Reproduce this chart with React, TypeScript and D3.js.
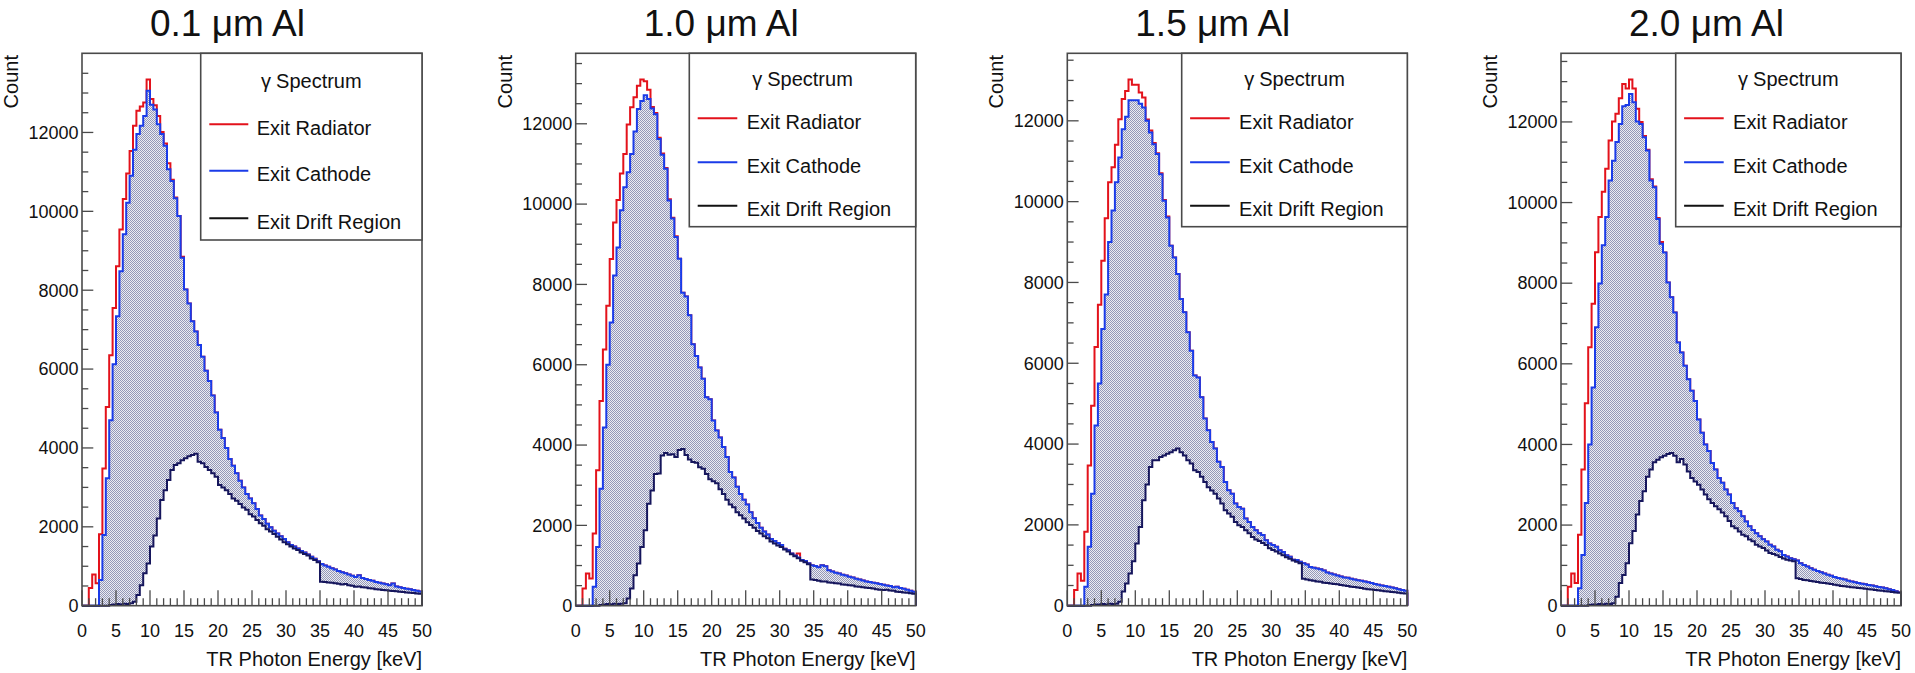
import React from 'react';
import * as d3 from 'd3';

// ---------------- data ----------------
const BIN_WIDTH = 0.5; // keV
const X_DOMAIN: [number, number] = [0, 50];
const xMajorTicks = [0, 5, 10, 15, 20, 25, 30, 35, 40, 45, 50];
const yMajorTicks = [0, 2000, 4000, 6000, 8000, 10000, 12000];
const panelTitles = ['0.1 μm Al', '1.0 μm Al', '1.5 μm Al', '2.0 μm Al'];
const legendTitle = 'Spectrum';
const legendGreek = 'γ';
const seriesLabels = ['Exit Radiator', 'Exit Cathode', 'Exit Drift Region'];
const xAxisTitle = 'TR Photon Energy [keV]';
const yAxisTitle = 'Count';

// 0.1 um Al
const radiator01 = [
  0, 0, 450, 790, 570, 1810, 3480, 5040, 6350, 7550,
  8610, 9540, 10310, 10960, 11530, 12170, 12550, 12660, 12760, 13340,
  12850, 12690, 12420, 12010, 11720, 11220, 10800, 10350, 9880, 8850,
  8020, 7660, 7210, 6950, 6610, 6310, 5960, 5700, 5330, 4900,
  4460, 4250, 4000, 3720, 3550, 3360, 3170, 3000, 2830, 2720,
  2600, 2450, 2290, 2200, 2080, 1990, 1900, 1830, 1760, 1690,
  1610, 1540, 1500, 1450, 1390, 1350, 1300, 1240, 1190, 1130,
  1060, 1020, 990, 950, 920, 880, 850, 820, 790, 760,
  730, 770, 700, 680, 650, 630, 600, 580, 560, 545,
  520, 565, 490, 470, 450, 430, 415, 400, 380, 360,
];
const cathode01 = [
  0, 0, 0, 0, 0, 650, 1790, 3230, 4700, 6120,
  7340, 8480, 9420, 10220, 10900, 11560, 11960, 12170, 12420, 13060,
  12700, 12580, 12210, 11960, 11660, 11070, 10770, 10330, 9880, 8820,
  8020, 7660, 7210, 6950, 6610, 6310, 5960, 5700, 5330, 4900,
  4460, 4250, 4000, 3720, 3550, 3360, 3170, 3000, 2830, 2720,
  2600, 2450, 2290, 2200, 2080, 1990, 1900, 1830, 1760, 1690,
  1610, 1540, 1500, 1450, 1390, 1350, 1300, 1240, 1190, 1130,
  1060, 1020, 990, 950, 920, 880, 850, 820, 790, 760,
  730, 770, 700, 680, 650, 630, 600, 580, 560, 545,
  520, 565, 490, 470, 450, 430, 415, 400, 380, 360,
];
const drift01 = [
  0, 0, 0, 0, 0, 0, 0, 0, 20, 30,
  40, 30, 50, 40, 60, 100, 270, 520, 820, 1070,
  1500, 1780, 2210, 2680, 2930, 3190, 3440, 3570, 3610, 3690,
  3740, 3790, 3820, 3850, 3650, 3610, 3520, 3440, 3360, 3270,
  3060, 3000, 2930, 2830, 2720, 2660, 2580, 2490, 2430, 2320,
  2260, 2170, 2090, 2030, 1940, 1880, 1820, 1750, 1680, 1610,
  1560, 1500, 1450, 1410, 1350, 1310, 1270, 1200, 1160, 1100,
  610, 600, 590, 580, 570, 555, 540, 550, 520, 505,
  480, 490, 470, 460, 445, 435, 420, 410, 400, 390,
  380, 375, 365, 355, 345, 335, 330, 320, 310, 300,
];

// 1.0 um Al
const radiator10 = [
  0, 0, 430, 800, 680, 1800, 3370, 5100, 6380, 7470,
  8630, 9540, 10100, 10760, 11250, 11980, 12410, 12660, 12950, 13100,
  13060, 12850, 12420, 12270, 11650, 11260, 10900, 10120, 9660, 9200,
  8640, 7790, 7700, 7230, 6510, 6220, 5930, 5650, 5190, 5140,
  4610, 4360, 4190, 3950, 3700, 3330, 3190, 2960, 2780, 2640,
  2520, 2330, 2180, 2060, 1940, 1850, 1770, 1660, 1610, 1560,
  1510, 1420, 1380, 1300, 1250, 1300, 1140, 1110, 1060, 1010,
  990, 960, 1010, 980, 880, 850, 820, 800, 770, 750,
  720, 700, 670, 650, 630, 600, 590, 570, 560, 540,
  520, 500, 490, 460, 470, 440, 420, 400, 370, 350,
];
const cathode10 = [
  0, 0, 0, 0, 0, 470, 1460, 2910, 4440, 6000,
  7050, 8220, 8920, 9850, 10420, 10790, 11250, 11810, 12370, 12570,
  12710, 12620, 12380, 12240, 11620, 11230, 10880, 10090, 9640, 9180,
  8640, 7790, 7700, 7230, 6510, 6220, 5930, 5650, 5190, 5140,
  4610, 4360, 4190, 3950, 3700, 3330, 3190, 2960, 2780, 2640,
  2520, 2330, 2180, 2060, 1940, 1850, 1770, 1660, 1610, 1560,
  1510, 1420, 1380, 1300, 1250, 1200, 1140, 1110, 1060, 1010,
  990, 960, 1010, 980, 880, 850, 820, 800, 770, 750,
  720, 700, 670, 650, 630, 600, 590, 570, 560, 540,
  520, 500, 490, 460, 470, 440, 420, 400, 370, 350,
];
const drift10 = [
  0, 0, 0, 0, 0, 0, 0, 20, 30, 40,
  30, 50, 40, 50, 60, 180, 430, 760, 1050, 1460,
  1880, 2540, 2870, 3280, 3290, 3740, 3800, 3760, 3770, 3700,
  3880, 3900, 3750, 3640, 3580, 3560, 3450, 3410, 3280, 3150,
  3100, 3050, 2900, 2780, 2640, 2520, 2450, 2330, 2250, 2170,
  2080, 2010, 1940, 1860, 1800, 1730, 1680, 1600, 1550, 1500,
  1460, 1400, 1350, 1280, 1230, 1180, 1120, 1080, 1030, 650,
  640, 620, 600, 600, 580, 570, 560, 550, 530, 520,
  510, 500, 480, 470, 460, 450, 440, 430, 410, 400,
  390, 400, 380, 370, 350, 340, 330, 320, 310, 300,
];

// 1.5 um Al
const radiator15 = [
  0, 0, 390, 800, 620, 1830, 3470, 4950, 6400, 7450,
  8540, 9590, 10480, 10850, 11410, 12040, 12540, 12740, 13020, 12890,
  12890, 12700, 12580, 12030, 11760, 11450, 11200, 10700, 10040, 9630,
  8910, 8620, 8210, 7590, 7260, 6770, 6310, 5700, 5650, 5160,
  4630, 4340, 4050, 3890, 3560, 3430, 3060, 2860, 2770, 2530,
  2440, 2400, 2160, 2070, 1950, 1870, 1790, 1750, 1620, 1540,
  1500, 1460, 1370, 1330, 1250, 1210, 1140, 1130, 1090, 1050,
  1020, 960, 940, 920, 900, 870, 820, 800, 770, 750,
  720, 700, 690, 670, 650, 630, 620, 600, 580, 560,
  540, 520, 500, 490, 470, 450, 430, 410, 390, 370,
];
const cathode15 = [
  0, 0, 0, 0, 0, 470, 1460, 2770, 4460, 5500,
  6850, 7700, 9000, 9780, 10480, 11090, 11790, 12100, 12510, 12510,
  12510, 12420, 12330, 12000, 11710, 11420, 11180, 10680, 10020, 9610,
  8910, 8620, 8210, 7590, 7260, 6770, 6310, 5700, 5650, 5160,
  4630, 4340, 4050, 3890, 3560, 3430, 3060, 2860, 2770, 2530,
  2440, 2400, 2160, 2070, 1950, 1870, 1790, 1750, 1620, 1540,
  1500, 1460, 1370, 1330, 1250, 1210, 1140, 1130, 1090, 1050,
  1020, 960, 940, 920, 900, 870, 820, 800, 770, 750,
  720, 700, 690, 670, 650, 630, 620, 600, 580, 560,
  540, 520, 500, 490, 470, 450, 430, 410, 390, 370,
];
const drift15 = [
  0, 0, 0, 0, 0, 0, 0, 20, 30, 30,
  40, 30, 50, 40, 50, 100, 350, 550, 800, 1100,
  1540, 1950, 2610, 3000, 3430, 3600, 3600, 3680, 3720, 3760,
  3800, 3850, 3890, 3800, 3720, 3600, 3520, 3350, 3310, 3190,
  3060, 2930, 2850, 2770, 2650, 2530, 2360, 2280, 2200, 2070,
  1990, 1950, 1870, 1790, 1700, 1640, 1600, 1550, 1500, 1420,
  1380, 1340, 1290, 1250, 1200, 1160, 1120, 1090, 1050, 670,
  650, 630, 620, 600, 590, 570, 560, 550, 540, 530,
  510, 500, 490, 470, 460, 450, 440, 420, 410, 400,
  390, 380, 370, 360, 350, 340, 330, 320, 310, 300,
];

// 2.0 um Al
const radiator20 = [
  0, 0, 470, 800, 560, 1760, 3380, 5020, 6410, 7490,
  8770, 9640, 10270, 10840, 11540, 12010, 12200, 12590, 12940, 12830,
  13050, 12830, 12330, 12000, 11650, 11310, 10580, 10400, 9620, 9020,
  8760, 8020, 7650, 7270, 6530, 6280, 5950, 5620, 5330, 5080,
  4620, 4290, 4000, 3840, 3540, 3380, 3170, 3050, 2880, 2760,
  2550, 2420, 2340, 2220, 2090, 1970, 1880, 1800, 1720, 1650,
  1590, 1510, 1470, 1390, 1350, 1260, 1220, 1180, 1150, 1120,
  1050, 1010, 970, 930, 890, 860, 830, 800, 770, 740,
  710, 690, 670, 650, 620, 600, 580, 560, 545, 530,
  515, 500, 480, 465, 450, 430, 410, 390, 360, 330,
];
const cathode20 = [
  0, 0, 0, 0, 0, 430, 1260, 2550, 4000, 5410,
  6910, 7990, 8940, 9640, 10550, 11040, 11500, 11950, 12390, 12420,
  12690, 12490, 12010, 11950, 11620, 11290, 10550, 10380, 9590, 8980,
  8760, 8020, 7650, 7270, 6530, 6280, 5950, 5620, 5330, 5080,
  4620, 4290, 4000, 3840, 3540, 3380, 3170, 3050, 2880, 2760,
  2550, 2420, 2340, 2220, 2090, 1970, 1880, 1800, 1720, 1650,
  1590, 1510, 1470, 1390, 1350, 1260, 1220, 1180, 1150, 1120,
  1050, 1010, 970, 930, 890, 860, 830, 800, 770, 740,
  710, 690, 670, 650, 620, 600, 580, 560, 545, 530,
  515, 500, 480, 465, 450, 430, 410, 390, 360, 330,
];
const drift20 = [
  0, 0, 0, 0, 0, 0, 0, 0, 20, 30,
  30, 40, 30, 50, 40, 60, 220, 560, 760, 1050,
  1550, 1850, 2260, 2600, 2840, 3200, 3380, 3560, 3620, 3680,
  3720, 3760, 3790, 3720, 3560, 3640, 3500, 3330, 3170, 3080,
  3000, 2880, 2760, 2640, 2550, 2470, 2390, 2310, 2220, 2100,
  1970, 1920, 1840, 1760, 1720, 1640, 1600, 1510, 1470, 1430,
  1370, 1310, 1280, 1250, 1210, 1170, 1140, 1120, 1100, 680,
  660, 640, 630, 610, 600, 590, 570, 560, 550, 540,
  520, 510, 490, 480, 470, 460, 450, 440, 430, 420,
  410, 400, 390, 380, 370, 360, 350, 340, 330, 320,
];

const panelData = [
  { title: panelTitles[0], radiator: radiator01, cathode: cathode01, drift: drift01 },
  { title: panelTitles[1], radiator: radiator10, cathode: cathode10, drift: drift10 },
  { title: panelTitles[2], radiator: radiator15, cathode: cathode15, drift: drift15 },
  { title: panelTitles[3], radiator: radiator20, cathode: cathode20, drift: drift20 },
];

// ---------------- layout / style ----------------
const W = 1915;
const H = 673;
const FRAME_LEFTS = [82, 575.7, 1067.3, 1561];
const FRAME_TOP = 53.3;
const FRAME_BOTTOM = 605.7;
const FRAME_W = 340;
const LEGENDS = [
  { left: 200.7, bottom: 240, header: 88.3, rows: [124.3, 170.7, 218.3], l0: 8.6, l1: 47.6, tx: 56 },
  { left: 689.3, bottom: 226.7, header: 86, rows: [118.3, 162.3, 205.7], l0: 8.4, l1: 48, tx: 57.4 },
  { left: 1181.7, bottom: 226.7, header: 86, rows: [118.3, 162.3, 205.7], l0: 8.4, l1: 48, tx: 57.4 },
  { left: 1675.7, bottom: 226.7, header: 86, rows: [118.3, 162.3, 205.7], l0: 8.4, l1: 48, tx: 57.4 },
];
const FONT = "'Liberation Sans', Arial, Helvetica, sans-serif";
const RED = '#e3121b';
const BLUE = '#1a3be8';
const NAVY = '#16165c';
const AXIS = '#4a4a4a';
const LINE_COLORS_LEGEND = [RED, BLUE, '#111111'];

function stepPoints(values: number[], x: d3.ScaleLinear<number, number>, y: d3.ScaleLinear<number, number>) {
  const pts: [number, number][] = [[x(0), y(0)]];
  values.forEach((v, i) => {
    pts.push([x(i * BIN_WIDTH), y(v)]);
    pts.push([x((i + 1) * BIN_WIDTH), y(v)]);
  });
  pts.push([x(values.length * BIN_WIDTH), y(0)]);
  return pts;
}

const lineGen = d3.line<[number, number]>();

function Panel({ idx }: { idx: number }) {
  const d = panelData[idx];
  const left = FRAME_LEFTS[idx];
  const right = left + FRAME_W;
  const x = d3.scaleLinear().domain(X_DOMAIN).range([left, right]);
  const yMax = 1.05 * (d3.max(d.radiator) as number);
  const y = d3.scaleLinear().domain([0, yMax]).range([FRAME_BOTTOM, FRAME_TOP]);

  const redPath = lineGen(stepPoints(d.radiator, x, y)) as string;
  const bluePath = lineGen(stepPoints(d.cathode, x, y)) as string;
  const driftPath = lineGen(stepPoints(d.drift, x, y)) as string;

  const xMinor = d3.range(0, 51, 1).filter((v) => v % 5 !== 0);
  const yMinor = d3.range(0, yMax, 500).filter((v) => v % 2000 !== 0);
  const lg = LEGENDS[idx];

  return (
    <g>
      {/* histograms */}
      <path d={redPath} fill="none" stroke={RED} strokeWidth={2} />
      <path d={bluePath + 'Z'} fill="url(#dots)" stroke="none" />
      <path d={bluePath} fill="none" stroke={BLUE} strokeWidth={2} />
      <path d={driftPath + 'Z'} fill="#ffffff" stroke="none" />
      <path d={driftPath} fill="none" stroke={NAVY} strokeWidth={2} />

      {/* frame */}
      <rect x={left} y={FRAME_TOP} width={FRAME_W} height={FRAME_BOTTOM - FRAME_TOP} fill="none" stroke={AXIS} strokeWidth={1.6} />

      {/* x ticks */}
      {xMajorTicks.map((t) => (
        <line key={'xM' + t} x1={x(t)} x2={x(t)} y1={FRAME_BOTTOM} y2={FRAME_BOTTOM - 15.5} stroke={AXIS} strokeWidth={1.3} />
      ))}
      {xMinor.map((t) => (
        <line key={'xm' + t} x1={x(t)} x2={x(t)} y1={FRAME_BOTTOM} y2={FRAME_BOTTOM - 7.5} stroke={AXIS} strokeWidth={1.3} />
      ))}
      {xMajorTicks.map((t) => (
        <text key={'xl' + t} x={x(t)} y={FRAME_BOTTOM + 31} fontSize={18} textAnchor="middle" fontFamily={FONT} fill="#111">
          {t}
        </text>
      ))}
      <text x={right} y={666} fontSize={20} textAnchor="end" fontFamily={FONT} fill="#111">
        {xAxisTitle}
      </text>

      {/* y ticks */}
      {yMajorTicks.map((t) => (
        <line key={'yM' + t} x1={left} x2={left + 11.3} y1={y(t)} y2={y(t)} stroke={AXIS} strokeWidth={1.3} />
      ))}
      {yMinor.map((t) => (
        <line key={'ym' + t} x1={left} x2={left + 6.3} y1={y(t)} y2={y(t)} stroke={AXIS} strokeWidth={1.3} />
      ))}
      {yMajorTicks.map((t) => (
        <text key={'yl' + t} x={left - 3.5} y={y(t) + 6.3} fontSize={18} textAnchor="end" fontFamily={FONT} fill="#111">
          {t}
        </text>
      ))}
      <text
        transform={`translate(${left - 64},${FRAME_TOP + 1.7}) rotate(-90)`}
        fontSize={20}
        textAnchor="end"
        fontFamily={FONT}
        fill="#111"
      >
        {yAxisTitle}
      </text>

      {/* legend */}
      <rect x={lg.left} y={FRAME_TOP} width={right - lg.left} height={lg.bottom - FRAME_TOP} fill="#ffffff" stroke={AXIS} strokeWidth={1.6} />
      <text x={(lg.left + right) / 2} y={lg.header} fontSize={20} textAnchor="middle" fontFamily={FONT} fill="#111">
        <tspan>{legendGreek}</tspan>
        <tspan dx={5}>{legendTitle}</tspan>
      </text>
      {seriesLabels.map((s, i) => (
        <g key={s}>
          <line x1={lg.left + lg.l0} x2={lg.left + lg.l1} y1={lg.rows[i]} y2={lg.rows[i]} stroke={LINE_COLORS_LEGEND[i]} strokeWidth={2} />
          <text x={lg.left + lg.tx} y={lg.rows[i] + 10.5} fontSize={20} fontFamily={FONT} fill="#111">
            {s}
          </text>
        </g>
      ))}

      {/* title */}
      <text x={left + 145.5} y={36} fontSize={37} textAnchor="middle" fontFamily={FONT} fill="#111">
        {d.title}
      </text>
    </g>
  );
}

export default function App() {
  return (
    <svg
      width={W}
      height={H}
      viewBox={`0 0 ${W} ${H}`}
      style={{ position: 'absolute', left: 0, top: 0, display: 'block', background: '#fff' }}
    >
      <defs>
        <pattern id="dots" patternUnits="userSpaceOnUse" x={0} y={0} width={2} height={2}>
          <rect x={0} y={0} width={2} height={2} fill="#ececf2" />
          <rect x={0} y={0} width={1} height={1} fill="#9498b8" />
          <rect x={1} y={1} width={1} height={1} fill="#9498b8" />
        </pattern>
      </defs>
      <rect x={0} y={0} width={W} height={H} fill="#ffffff" />
      {panelData.map((_, i) => (
        <Panel key={i} idx={i} />
      ))}
    </svg>
  );
}
